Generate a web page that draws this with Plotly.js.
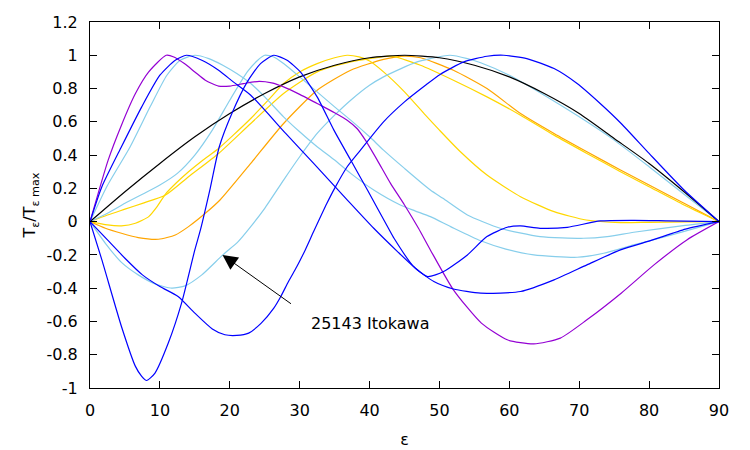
<!DOCTYPE html>
<html>
<head>
<meta charset="utf-8">
<script src="https://cdn.plot.ly/plotly-3.0.1.min.js"></script>
<style>html,body{margin:0;padding:0;background:#fff;}#chart{width:750px;height:450px;}</style>
</head>
<body>
<div id="chart"></div>
<script>
// x tick labels / y tick labels
var xTicks = [0,10,20,30,40,50,60,70,80,90];
var yTickVals = [-1,-0.8,-0.6,-0.4,-0.2,0,0.2,0.4,0.6,0.8,1,1.2];
var yTickText = ["-1","-0.8","-0.6","-0.4","-0.2","0","0.2","0.4","0.6","0.8","1","1.2"];

// black curve
var epsBlack = [0,5,10,15,20,25,30,35,40,45,50,55,60,65,70,75,80,85,90];
var vBlack   = [0,0.18,0.35,0.51,0.65,0.77,0.87,0.94,0.985,1,0.985,0.94,0.87,0.77,0.65,0.5,0.35,0.18,0];

// purple curve
var epsPurple = [0,2.6,4.5,6.5,8.4,10.9,12,13.5,15,16.5,18.4,20,22,24.2,26,27.7,30,32.5,35,36.8,38.2,39.4,41.1,43,45,47,48.7,52,56,59.7,63.5,67.3,71.1,76,80.7,85.4,90];
var vPurple   = [0,0.37,0.58,0.77,0.9,1.0,0.99,0.95,0.9,0.85,0.815,0.815,0.83,0.843,0.834,0.81,0.765,0.71,0.655,0.61,0.56,0.49,0.37,0.23,0.1,-0.04,-0.17,-0.41,-0.61,-0.71,-0.735,-0.7,-0.59,-0.43,-0.26,-0.11,0];

// blue curves
var epsBlueA = [0,1.7,4.5,7.4,10,12.2,13.8,16,18.4,20.5,23,28,32,36.6,40.6,44,46.3,48.3,50.6,54,56.8,59.7,61.6,64.4,68.3,73,77.8,82.6,90];
var vBlueA   = [0,0.21,0.45,0.69,0.88,0.97,1.0,0.97,0.91,0.84,0.76,0.53,0.35,0.14,-0.04,-0.18,-0.27,-0.33,-0.3,-0.2,-0.09,-0.034,-0.026,-0.04,-0.034,0.004,0.008,0.005,0];

var epsBlueB = [0,1.7,4.5,6.5,7.4,8.1,9.3,11.2,13.1,15,15.8,17.2,18.5,20.3,22.5,24.4,26.3,28.2,30.1,32.5,34.9,37.3,39.7,42.7,43.5,46.3,49.2,52,55.9,61.6,66.4,71.1,75.9,80.5,85.2,90];
var vBlueB   = [0,-0.23,-0.63,-0.87,-0.93,-0.955,-0.91,-0.73,-0.49,-0.17,-0.05,0.2,0.45,0.65,0.84,0.95,1.0,0.97,0.9,0.75,0.55,0.37,0.19,-0.04,-0.1,-0.27,-0.36,-0.405,-0.43,-0.42,-0.35,-0.26,-0.17,-0.11,-0.045,0];

var epsBlueC = [0,2.5,5,7.5,10,12.6,15,17.5,19.3,21,22.7,24.5,26.3,27.3,28.4,29.6,30.8,32,33.9,35,36.8,38.7,42,45,48,50.1,53.5,56.8,59.2,62.5,66.4,69.7,73,76,80,85,90];
var vBlueC   = [0,-0.11,-0.22,-0.32,-0.39,-0.45,-0.55,-0.645,-0.68,-0.684,-0.67,-0.61,-0.52,-0.45,-0.36,-0.27,-0.17,-0.06,0.11,0.2,0.33,0.43,0.6,0.72,0.82,0.885,0.96,0.994,1.0,0.98,0.92,0.83,0.71,0.59,0.41,0.19,0];

// light blue curves
var epsSky1 = [0,2.4,5.75,8.6,11,12.9,15,17,19,21,23,25,27.7,30,32.5,35,37.3,40.6,44.4,46.5,48.7,51.6,55.9,59.5,63.5,69.7,73.5,77.8,81.5,84.9,90];
var vSky1   = [0,0.21,0.45,0.69,0.88,0.97,1.0,0.98,0.94,0.89,0.83,0.75,0.63,0.54,0.45,0.37,0.29,0.19,0.1,0.065,0.03,-0.03,-0.115,-0.165,-0.2,-0.214,-0.19,-0.14,-0.1,-0.06,0];

var epsSky2 = [0,2.5,5,7.5,10,12.5,15,17.5,20,22.5,24,25,26.3,27.7,30,32.5,35,37.3,40,42,45,48.7,50.5,54,58.7,64.4,70.6,74,77.8,84.9,90];
var vSky2   = [0,0.05,0.11,0.165,0.22,0.29,0.4,0.55,0.73,0.9,0.97,1.0,0.99,0.95,0.87,0.78,0.69,0.61,0.51,0.43,0.32,0.19,0.14,0.04,-0.04,-0.09,-0.1,-0.09,-0.064,-0.024,0];

// 25143 Itokawa
var epsItokawa = [0,2.2,4.5,6.9,9.3,11.7,13.6,16,19,21.2,23,25,27.7,30,32.5,35,37.3,40,42,44.5,46.8,48.7,51.5,54,55.9,60,65,70,75,80,85,90];
var vItokawa   = [0,-0.13,-0.245,-0.32,-0.374,-0.4,-0.386,-0.32,-0.2,-0.12,-0.03,0.08,0.25,0.39,0.53,0.64,0.73,0.82,0.87,0.92,0.96,0.98,1.0,0.98,0.955,0.88,0.76,0.63,0.49,0.33,0.165,0];

// gold curves
var epsGold1 = [0,2.5,4.5,6.5,8.4,9.6,10.8,12.4,14.1,16,18.4,20.5,23,25.5,27.7,30,32.5,35,36.8,38.5,40,42,45,48,50,53,56.8,61.6,66.4,71,75.9,80,85,90];
var vGold1   = [0,-0.02,-0.025,-0.01,0.03,0.09,0.166,0.235,0.3,0.365,0.44,0.52,0.62,0.73,0.83,0.9,0.95,0.985,1.0,0.99,0.965,0.9,0.78,0.64,0.55,0.42,0.28,0.15,0.06,0.01,-0.006,-0.004,-0.002,0];

var epsGold2 = [0,2.5,5,7.5,10.8,14.1,18.4,23,27.7,32.5,37.3,40,43,47.3,52,56.8,61.6,66.4,71.1,75.9,80,85,90];
var vGold2   = [0,0.04,0.075,0.11,0.16,0.27,0.41,0.59,0.77,0.9,0.96,0.98,0.995,0.94,0.85,0.75,0.64,0.52,0.41,0.3,0.21,0.1,0];

// orange curve
var epsOrange = [0,2.2,4.5,6.9,9.8,12.2,14.1,16.5,18.6,23,27.7,32.5,37.3,42,45,47.3,52,56.8,61.6,66.4,71.1,75.9,80,85,90];
var vOrange   = [0,-0.04,-0.07,-0.096,-0.106,-0.08,-0.03,0.05,0.13,0.35,0.59,0.79,0.91,0.975,0.995,0.985,0.91,0.8,0.65,0.53,0.42,0.31,0.22,0.11,0];

function tr(x, y, color) {
  return {x: x, y: y, type: 'scatter', mode: 'lines',
          line: {color: color, width: 1.2, shape: 'spline', smoothing: 0.6},
          hoverinfo: 'skip', showlegend: false};
}

var data = [
  tr(epsOrange, vOrange, '#ffa500'),
  tr(epsGold1, vGold1, '#ffd700'),
  tr(epsGold2, vGold2, '#ffd700'),
  tr(epsSky1, vSky1, '#87ceeb'),
  tr(epsSky2, vSky2, '#87ceeb'),
  tr(epsItokawa, vItokawa, '#87ceeb'),
  tr(epsBlack, vBlack, '#000000'),
  tr(epsPurple, vPurple, '#9400d3'),
  tr(epsBlueA, vBlueA, '#0000ff'),
  tr(epsBlueB, vBlueB, '#0000ff'),
  tr(epsBlueC, vBlueC, '#0000ff')
];

var font = {family: 'DejaVu Sans, Liberation Sans, sans-serif', size: 16, color: '#000'};

var layout = {
  width: 750, height: 450,
  margin: {l: 90, r: 31, t: 22, b: 62, pad: 0},
  paper_bgcolor: '#fff', plot_bgcolor: '#fff',
  font: font,
  showlegend: false,
  xaxis: {
    range: [0, 90], tickvals: xTicks, ticktext: xTicks.map(String),
    ticks: 'inside', ticklen: 7, tickwidth: 1, tickcolor: '#000',
    showline: true, linecolor: '#000', linewidth: 1, mirror: 'ticks',
    showgrid: false, zeroline: false,
    tickfont: font, ticklabelstandoff: 8,
    title: {text: 'ε', font: font, standoff: 14}
  },
  yaxis: {
    range: [-1, 1.2], tickvals: yTickVals, ticktext: yTickText,
    ticks: 'inside', ticklen: 7, tickwidth: 1, tickcolor: '#000',
    showline: true, linecolor: '#000', linewidth: 1, mirror: 'ticks',
    showgrid: false, zeroline: false,
    tickfont: font, ticklabelstandoff: 8,
    title: {text: 'T<sub>ε</sub>/T<sub>ε max</sub>', font: font, standoff: 6}
  },
  annotations: [
    {x: 18.96, y: -0.2, ax: 28.97, ay: -0.5, axref: 'x', ayref: 'y', xref: 'x', yref: 'y',
     text: '', showarrow: true, arrowhead: 2, arrowsize: 3, arrowwidth: 1, arrowcolor: '#000'},
    {x: 31.3, y: -0.61, xref: 'x', yref: 'y', text: '25143 Itokawa', showarrow: false,
     xanchor: 'left', yanchor: 'middle', font: font}
  ]
};

Plotly.newPlot('chart', data, layout, {displayModeBar: false, staticPlot: true});
</script>
</body>
</html>
